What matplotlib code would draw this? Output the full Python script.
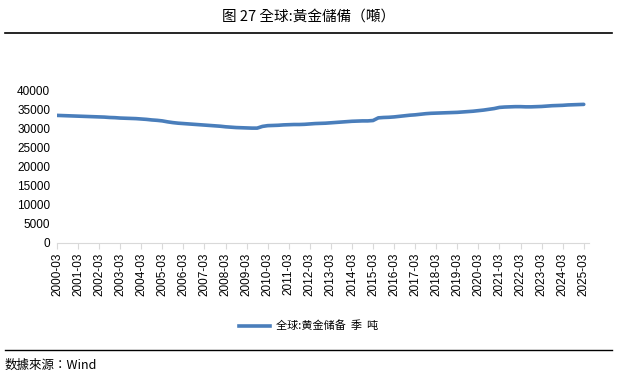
"""
plot.py - 全球黃金儲備（季度, 噸）, 2000-03 ~ 2025-03.
Output: out.png (617x379)
"""
import matplotlib.pyplot as plt
from matplotlib.lines import Line2D

plt.rcParams['font.family'] = ['Noto Sans CJK TC', 'DejaVu Sans']

years = list(range(2000, 2026))
labels = [f"{y}-03" for y in years]

# 季度数据 (吨), 2000Q1 .. 2025Q1, 读图估计
reserves = [
    33500, 33450, 33400, 33350,   # 2000
    33300, 33250, 33200, 33150,   # 2001
    33100, 33050, 32950, 32900,   # 2002
    32800, 32750, 32700, 32650,   # 2003
    32550, 32450, 32300, 32200,   # 2004
    32050, 31800, 31600, 31450,   # 2005
    31350, 31250, 31150, 31050,   # 2006
    30950, 30850, 30750, 30650,   # 2007
    30500, 30400, 30300, 30250,   # 2008
    30200, 30150, 30150, 30600,   # 2009
    30800, 30850, 30900, 31000,   # 2010
    31050, 31100, 31100, 31150,   # 2011
    31250, 31350, 31400, 31450,   # 2012
    31550, 31650, 31750, 31850,   # 2013
    31950, 32000, 32050, 32050,   # 2014
    32150, 32850, 32950, 33000,   # 2015
    33100, 33250, 33400, 33550,   # 2016
    33650, 33800, 33950, 34050,   # 2017
    34100, 34150, 34200, 34250,   # 2018
    34300, 34400, 34500, 34600,   # 2019
    34750, 34900, 35100, 35300,   # 2020
    35600, 35700, 35750, 35800,   # 2021
    35800, 35750, 35750, 35800,   # 2022
    35850, 35950, 36050, 36100,   # 2023
    36150, 36250, 36300, 36350,   # 2024
    36400,                        # 2025
]
yticks = list(range(0, 40001, 5000))
series_name = "全球:黄金储备  季  吨"

fig = plt.figure(figsize=(6.17, 3.79), dpi=100)
ax = fig.add_axes([57 / 617, 0.3597, 532 / 617, 0.401])

x = list(range(len(reserves)))
ax.plot(x, reserves, color="#4a7ebb", lw=2.6, solid_capstyle="round")

ax.set_xlim(0, 101)
ax.set_ylim(0, 40000)
ax.set_yticks(yticks)
ax.set_yticklabels([str(v) for v in yticks], fontsize=8.5, family="Liberation Sans")
ax.set_xticks(x[::4])
ax.set_xticklabels(labels, rotation=90, fontsize=8.5, family="Liberation Sans")
ax.tick_params(axis="y", length=0, pad=5)
ax.tick_params(axis="x", length=4, color="#d9d9d9", pad=3)
for s in ["top", "right", "left"]:
    ax.spines[s].set_visible(False)
ax.spines["bottom"].set_color("#d9d9d9")

# 图例
h = Line2D([], [], color="#4a7ebb", lw=2.6)
leg = fig.legend([h], [series_name], loc="center", bbox_to_anchor=(0.5, 1 - 326 / 379),
                 frameon=False, handlelength=2.8, handletextpad=0.5,
                 prop={"family": ["Noto Sans CJK SC", "DejaVu Sans"], "size": 8})

# 标题与上下横线
fig.text(0.5, 1 - 17 / 379, "图 27 全球:黃金儲備（噸）", ha="center", va="center", fontsize=10.5)
fig.add_artist(Line2D([5 / 617, 612 / 617], [1 - 33 / 379] * 2, color="black", lw=1.2))
fig.add_artist(Line2D([5 / 617, 612 / 617], [1 - 350 / 379] * 2, color="black", lw=1.0))
fig.text(5 / 617, 1 - 365 / 379, "数據來源：Wind", ha="left", va="center", fontsize=9,
         style="italic")

fig.savefig("out.png", dpi=100)
